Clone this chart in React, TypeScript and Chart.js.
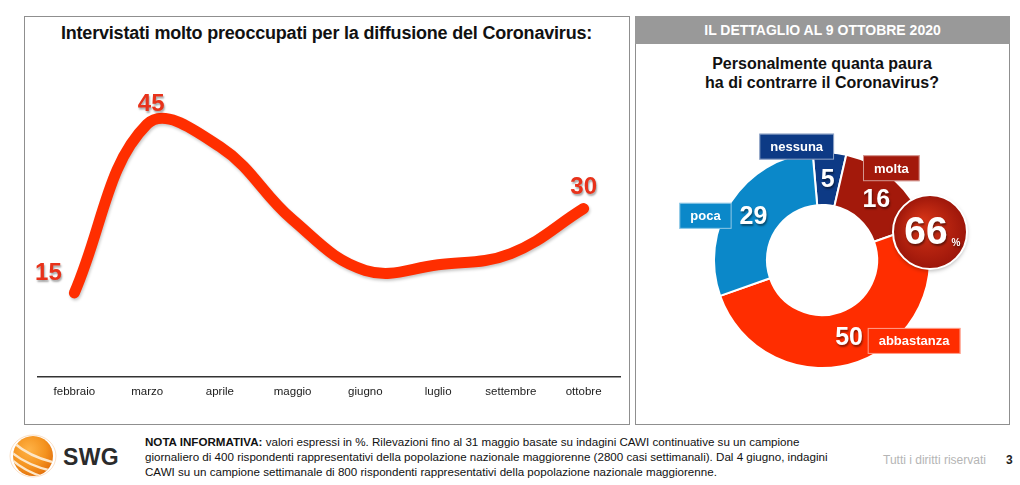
import React, { useEffect, useRef } from "react";
import { Chart, registerables } from "chart.js";

Chart.register(...registerables);

// ---------- data ----------
const months = ["febbraio", "marzo", "aprile", "maggio", "giugno", "luglio", "settembre", "ottobre"];
const preoccupati = [15, 45, 41, 28, 19, 20, 22, 30];
const labelledPoints = [0, 1, 7];

const pauraLabels = ["nessuna", "molta", "abbastanza", "poca"];
const pauraValues = [5, 16, 50, 29];
const pauraColors = ["#0d3a85", "#a3190b", "#ff2d00", "#0b88c9"];
const pauraBoxColors = ["#0d3a85", "#a3190b", "#ff2d00", "#0b88c9"];
const highlightIdx = [1, 2]; // molta + abbastanza

// ---------- styles / layout (not data) ----------
const FONT = '"Liberation Sans", Arial, Helvetica, sans-serif';
const lineLabelOffsets: [number, number][] = [[-26, -19], [4, -20], [0, -21]];
const boxOffsets: [number, number][] = [[-31, -32], [15, -31], [65, 4], [-48, 0]];
const bigCircleOffset: [number, number] = [108, -28];

const lineLabelPlugin = {
  id: "lineLabels",
  beforeDatasetDraw(chart: any) {
    const ctx = chart.ctx;
    ctx.save();
    ctx.shadowColor = "rgba(0,0,0,0.22)";
    ctx.shadowBlur = 3;
    ctx.shadowOffsetX = 1;
    ctx.shadowOffsetY = 2;
  },
  afterDatasetDraw(chart: any) {
    chart.ctx.restore();
  },
  afterDatasetsDraw(chart: any) {
    const meta = chart.getDatasetMeta(0);
    const ctx = chart.ctx;
    ctx.save();
    ctx.font = `bold 24px ${FONT}`;
    ctx.textAlign = "center";
    ctx.textBaseline = "middle";
    ctx.shadowColor = "rgba(0,0,0,0.35)";
    ctx.shadowBlur = 2;
    ctx.shadowOffsetX = 1;
    ctx.shadowOffsetY = 2;
    ctx.fillStyle = "#e8321a";
    labelledPoints.forEach((idx, k) => {
      const p = meta.data[idx];
      const [dx, dy] = lineLabelOffsets[k];
      ctx.fillText(String(preoccupati[idx]), p.x + dx, p.y + dy);
    });
    ctx.restore();
  },
};

const donutLabelPlugin = {
  id: "donutLabels",
  afterDatasetsDraw(chart: any) {
    const meta = chart.getDatasetMeta(0);
    const ctx = chart.ctx;
    const arcs = meta.data;
    const cx = arcs[0].x;
    const cy = arcs[0].y;

    ctx.save();
    ctx.textAlign = "center";
    ctx.textBaseline = "middle";
    arcs.forEach((arc: any, i: number) => {
      const c = arc.getCenterPoint();
      ctx.save();
      ctx.font = `bold 25px ${FONT}`;
      ctx.shadowColor = "rgba(0,0,0,0.45)";
      ctx.shadowBlur = 2;
      ctx.shadowOffsetX = 1;
      ctx.shadowOffsetY = 2;
      ctx.fillStyle = "#ffffff";
      ctx.fillText(String(pauraValues[i]), c.x, c.y + 1);
      ctx.restore();

      const [dx, dy] = boxOffsets[i];
      ctx.font = `bold 13px ${FONT}`;
      const tw = ctx.measureText(pauraLabels[i]).width;
      const w = tw + 22;
      const h = 26;
      const bx = c.x + dx - w / 2;
      const by = c.y + dy - h / 2;
      ctx.fillStyle = pauraBoxColors[i];
      ctx.fillRect(bx, by, w, h);
      ctx.strokeStyle = "rgba(255,255,255,0.55)";
      ctx.lineWidth = 1;
      ctx.strokeRect(bx + 0.5, by + 0.5, w - 1, h - 1);
      ctx.fillStyle = "#ffffff";
      ctx.fillText(pauraLabels[i], c.x + dx, c.y + dy + 1);
    });
    ctx.restore();

    const total = highlightIdx.reduce((s, i) => s + pauraValues[i], 0);
    const ox = cx + bigCircleOffset[0];
    const oy = cy + bigCircleOffset[1];
    const r = 37;
    ctx.save();
    ctx.shadowColor = "rgba(0,0,0,0.3)";
    ctx.shadowBlur = 4;
    ctx.shadowOffsetY = 2;
    const g = ctx.createRadialGradient(ox - 8, oy - 10, 4, ox, oy, r);
    g.addColorStop(0, "#d23216");
    g.addColorStop(1, "#9c160a");
    ctx.beginPath();
    ctx.arc(ox, oy, r, 0, Math.PI * 2);
    ctx.fillStyle = g;
    ctx.fill();
    ctx.shadowColor = "transparent";
    ctx.lineWidth = 2;
    ctx.strokeStyle = "#ffffff";
    ctx.stroke();
    ctx.restore();

    ctx.save();
    ctx.textBaseline = "middle";
    ctx.textAlign = "center";
    ctx.shadowColor = "rgba(0,0,0,0.45)";
    ctx.shadowBlur = 2;
    ctx.shadowOffsetX = 1;
    ctx.shadowOffsetY = 2;
    ctx.fillStyle = "#ffffff";
    ctx.font = `bold 39px ${FONT}`;
    ctx.fillText(String(total), ox - 4, oy + 1);
    ctx.font = `bold 10px ${FONT}`;
    ctx.fillText("%", ox + 26, oy + 11);
    ctx.restore();
  },
};

function LineChart() {
  const ref = useRef<HTMLCanvasElement>(null);
  useEffect(() => {
    const chart = new Chart(ref.current as HTMLCanvasElement, {
      type: "line",
      data: {
        labels: months,
        datasets: [
          {
            data: preoccupati,
            borderColor: "#ff2e00",
            borderWidth: 11,
            tension: 0.4,
            pointRadius: 0,
            borderCapStyle: "round",
            borderJoinStyle: "round",
            fill: false,
            clip: false as any,
          },
        ],
      },
      options: {
        animation: false,
        responsive: false,
        layout: { padding: { left: 13, right: 8, top: 51, bottom: 16 } },
        plugins: { legend: { display: false }, tooltip: { enabled: false } },
        scales: {
          x: {
            offset: true,
            grid: { display: false, drawTicks: false },
            border: { display: true, color: "#333333", width: 1.5 },
            ticks: { padding: 8, color: "#1a1a1a", font: { family: FONT, size: 11.5 } },
          },
          y: { display: false, min: 0, max: 55 },
        },
      },
      plugins: [lineLabelPlugin],
    } as any);
    return () => chart.destroy();
  }, []);
  return <canvas ref={ref} width={603} height={406} style={{ position: "absolute", left: 25, top: 17 }} />;
}

function DonutChart() {
  const ref = useRef<HTMLCanvasElement>(null);
  useEffect(() => {
    const chart = new Chart(ref.current as HTMLCanvasElement, {
      type: "doughnut",
      data: {
        labels: pauraLabels,
        datasets: [
          {
            data: pauraValues,
            backgroundColor: pauraColors,
            borderColor: "#ffffff",
            borderWidth: 2,
          },
        ],
      },
      options: {
        animation: false,
        responsive: false,
        rotation: -5,
        radius: 108,
        cutout: "51%",
        layout: { padding: 0 },
        plugins: { legend: { display: false }, tooltip: { enabled: false } },
      },
      plugins: [donutLabelPlugin],
    } as any);
    return () => chart.destroy();
  }, []);
  return <canvas ref={ref} width={372} height={320} style={{ position: "absolute", left: 636, top: 100 }} />;
}

function Logo() {
  return (
    <svg width={50} height={50} viewBox="0 0 50 50" style={{ position: "absolute", left: 8, top: 431 }}>
      <defs>
        <radialGradient id="swgG" cx="40%" cy="35%" r="70%">
          <stop offset="0" stopColor="#ffb347" />
          <stop offset="0.6" stopColor="#f4931f" />
          <stop offset="1" stopColor="#e2700c" />
        </radialGradient>
        <clipPath id="swgC">
          <circle cx="25" cy="25" r="20" />
        </clipPath>
      </defs>
      <circle cx="25" cy="25" r="20" fill="url(#swgG)" />
      <g clipPath="url(#swgC)" fill="none" stroke="#fde7c8" strokeWidth="2.4">
        <path d="M2 20 Q 18 34 44 40" />
        <path d="M3 28 Q 16 40 38 47" />
        <path d="M6 12 Q 22 26 48 32" />
      </g>
      <ellipse cx="25" cy="25" rx="23" ry="21" fill="none" stroke="#f6c89a" strokeWidth="0.8" opacity="0.7" />
    </svg>
  );
}

export default function App() {
  const noteStyle: React.CSSProperties = {
    position: "absolute",
    left: 145,
    top: 434,
    fontFamily: FONT,
    fontSize: 11.6,
    lineHeight: "15px",
    color: "#111",
    whiteSpace: "nowrap",
  };
  return (
    <div
      style={{
        position: "absolute",
        left: 0,
        top: 0,
        width: 1020,
        height: 485,
        background: "#ffffff",
        overflow: "hidden",
        fontFamily: FONT,
      }}
    >
      <div
        style={{
          position: "absolute",
          left: 24,
          top: 16,
          width: 604,
          height: 407,
          border: "1px solid #8f8f8f",
        }}
      />
      <div
        style={{
          position: "absolute",
          left: 25,
          top: 23,
          width: 603,
          textAlign: "center",
          fontWeight: "bold",
          fontSize: 18,
          color: "#111",
          letterSpacing: -0.2,
        }}
      >
        Intervistati molto preoccupati per la diffusione del Coronavirus:
      </div>
      <LineChart />

      <div
        style={{
          position: "absolute",
          left: 635,
          top: 16,
          width: 373,
          height: 407,
          border: "1px solid #8f8f8f",
        }}
      />
      <div
        style={{
          position: "absolute",
          left: 635,
          top: 16,
          width: 375,
          height: 28,
          background: "#999999",
          color: "#ffffff",
          fontWeight: "bold",
          fontSize: 14,
          lineHeight: "29px",
          textAlign: "center",
        }}
      >
        IL DETTAGLIO AL 9 OTTOBRE 2020
      </div>
      <div
        style={{
          position: "absolute",
          left: 636,
          top: 54,
          width: 372,
          textAlign: "center",
          fontWeight: "bold",
          fontSize: 16,
          lineHeight: "19px",
          color: "#111",
        }}
      >
        Personalmente quanta paura
        <br />
        ha di contrarre il Coronavirus?
      </div>
      <DonutChart />

      <Logo />
      <div
        style={{
          position: "absolute",
          left: 63,
          top: 444,
          fontWeight: "bold",
          fontSize: 23,
          color: "#2b2b2b",
          letterSpacing: 0.3,
        }}
      >
        SWG
      </div>
      <div style={noteStyle}>
        <b>NOTA INFORMATIVA:</b> valori espressi in %. Rilevazioni fino al 31 maggio basate su indagini CAWI continuative su un campione
        <br />
        giornaliero di 400 rispondenti rappresentativi della popolazione nazionale maggiorenne (2800 casi settimanali). Dal 4 giugno, indagini
        <br />
        CAWI su un campione settimanale di 800 rispondenti rappresentativi della popolazione nazionale maggiorenne.
      </div>
      <div
        style={{
          position: "absolute",
          left: 883,
          top: 453,
          fontSize: 12,
          color: "#b5b5b5",
          whiteSpace: "nowrap",
        }}
      >
        Tutti i diritti riservati
      </div>
      <div
        style={{
          position: "absolute",
          left: 1006,
          top: 453,
          fontSize: 12,
          fontWeight: "bold",
          color: "#222",
        }}
      >
        3
      </div>
    </div>
  );
}
